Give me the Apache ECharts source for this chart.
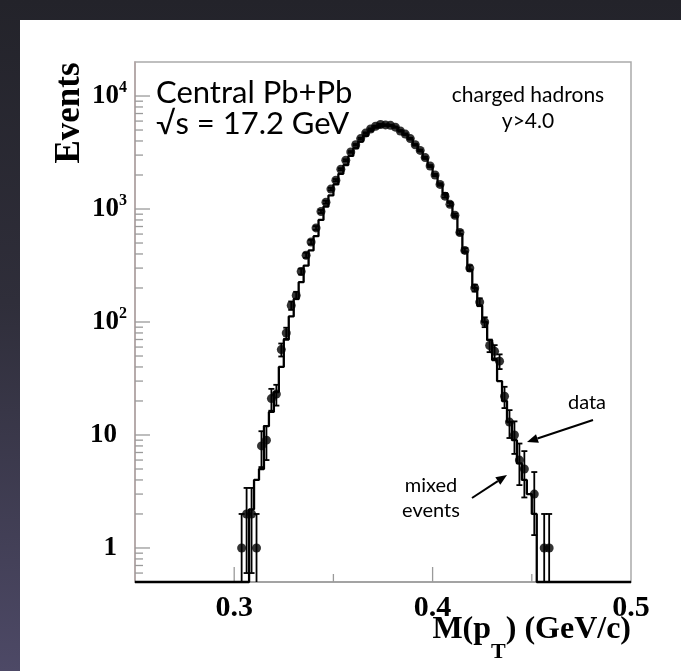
<!DOCTYPE html>
<html><head><meta charset="utf-8">
<script src="https://cdn.jsdelivr.net/npm/echarts@6/dist/echarts.min.js"></script>
<style>
html,body{margin:0;padding:0;width:681px;height:671px;overflow:hidden;
background:linear-gradient(to bottom,#23232a 0%,#2f2e3a 45%,#4d4966 100%);}
#panel{position:absolute;left:20px;top:20px;width:661px;height:651px;background:#fff;}
#chart{position:absolute;left:0;top:0;width:681px;height:671px;}
</style></head><body><div id="panel"></div><div id="chart"></div>
<script>
// ---- axis ranges & ticks ----
const xMin = 0.25, xMax = 0.5, yMin = 0.5, yMax = 20000;
const xTickLabels = [0.3, 0.4, 0.5];
const xMajorTicks = [0.3, 0.4];
const xMinorTicks = [0.35, 0.45];
const yTickValues = [1, 10, 100, 1000, 10000];

// ---- histogram binning ----
const binWidth = 0.0025;
// mixed events histogram: first non-empty bin lower edge, then contents
const mixedFirstEdge = 0.3075;
const mixedEvents = [
  2.2, 4.0, 5.0, 12, 16, 24, 40, 70, 112, 160,
  225, 315, 430, 575, 800, 1050, 1320, 1650, 2050, 2450,
  2950, 3450, 3950, 4450, 4900, 5250, 5450, 5500, 5430, 5250,
  4950, 4550, 4150, 3700, 3250, 2800, 2400, 2000, 1650, 1380,
  1150, 870, 600, 420, 290, 200, 140, 100, 69, 46,
  30, 20, 13, 9, 5.6, 4.0, 3.0, 2.0
];
// data points: first bin centre, counts and errors
const dataFirstCenter = 0.30375;
const dataCounts = [
  1, 2, 2, 1, 8, 9, 21, 23, 57, 80,
  140, 172, 280, 390, 510, 680, 950, 1150, 1500, 1800,
  2250, 2700, 3200, 3700, 4200, 4700, 5100, 5400, 5600, 5550,
  5500, 5300, 4900, 4600, 4200, 3700, 3300, 2850, 2400, 2000,
  1650, 1300, 1100, 880, 620, 430, 300, 200, 150, 100,
  62, 55, 45, 22, 13, 10, 6, 5, 0, 3,
  0, 1, 1
];
const dataErrors = [
  1, 1.4, 1.4, 1, 2.8, 3, 4.6, 4.8, 7.5, 9,
  12, 13, 17, 20, 23, 26, 31, 34, 39, 42,
  47, 52, 57, 61, 65, 69, 71, 73, 75, 74,
  74, 73, 70, 68, 65, 61, 57, 53, 49, 45,
  41, 36, 33, 30, 25, 21, 17, 14, 12, 10,
  7.9, 7.4, 6.7, 4.7, 3.6, 3.2, 2.4, 2.2, 0, 1.7,
  0, 1, 1
];

// ---- build series data ----
const histPts = [[xMin, yMin], [mixedFirstEdge, yMin]];
mixedEvents.forEach((v, i) => {
  const lo = mixedFirstEdge + i * binWidth, hi = lo + binWidth;
  histPts.push([lo, v], [hi, v]);
});
const histEnd = mixedFirstEdge + mixedEvents.length * binWidth;
histPts.push([histEnd, yMin], [xMax, yMin]);

const pts = [];
dataCounts.forEach((c, i) => {
  if (c > 0) pts.push([dataFirstCenter + i * binWidth, c, dataErrors[i]]);
});

const tickItems = [];
yTickValues.forEach(v => tickItems.push([xMin, v, 15, 0]));
for (let d = -1; d <= 4; d++) for (let m = 2; m <= 9; m++) {
  const v = m * Math.pow(10, d);
  if (v > yMin * 1.0001 && v < yMax * 0.9999) tickItems.push([xMin, v, 8, 0]);
}
xMajorTicks.forEach(v => tickItems.push([v, yMin, 15, 1]));
xMinorTicks.forEach(v => tickItems.push([v, yMin, 8, 1]));

const chart = echarts.init(document.getElementById('chart'), null, {renderer: 'canvas'});
const serif = '"Liberation Serif","Times New Roman",serif';
const sans = 'Lato,"Open Sans",sans-serif';

// axis title pieces measured for right alignment
const mctx = document.createElement('canvas').getContext('2d');
const fMain = 'bold 32px ' + serif, fSub = 'bold 22px ' + serif;
mctx.font = fMain; const w1 = mctx.measureText('M(p').width; const w3 = mctx.measureText(') (GeV/c)').width;
mctx.font = fSub; const w2 = mctx.measureText('T').width;
const xt3 = 631 - w3, xt2 = xt3 - w2, xt1 = xt2 - w1;

function arrow(x0, y0, x1, y1) {
  const dx = x1 - x0, dy = y1 - y0, L = Math.hypot(dx, dy), ux = dx / L, uy = dy / L;
  const hl = 11, hw = 4.5;
  const bx = x1 - ux * hl, by = y1 - uy * hl;
  return [
    {type: 'line', shape: {x1: x0, y1: y0, x2: bx, y2: by}, style: {stroke: '#000', lineWidth: 2}},
    {type: 'polygon', shape: {points: [[x1, y1], [bx - uy * hw, by + ux * hw], [bx + uy * hw, by - ux * hw]]}, style: {fill: '#000'}}
  ];
}

const option = {
  animation: false,
  backgroundColor: 'transparent',
  grid: {left: 135, right: 50, top: 62, bottom: 89, show: true, borderColor: '#aaaaaa', borderWidth: 1.5, backgroundColor: 'transparent'},
  xAxis: {
    type: 'value', min: xMin, max: xMax, interval: 0.05,
    axisLine: {lineStyle: {color: '#9a9a9a', width: 1.5}},
    axisTick: {show: false}, splitLine: {show: false},
    axisLabel: {
      margin: 11, color: '#000', fontFamily: serif, fontWeight: 'bold', fontSize: 30,
      formatter: v => xTickLabels.some(t => Math.abs(t - v) < 1e-9) ? v.toFixed(1) : ''
    }
  },
  yAxis: {
    type: 'log', logBase: 10, min: yMin, max: yMax,
    axisLine: {show: true, lineStyle: {color: '#b3a4a4', width: 1.5}},
    axisTick: {show: false}, splitLine: {show: false}, minorTick: {show: false},
    axisLabel: {
      margin: 8,
      formatter: v => {
        if (!yTickValues.some(t => Math.abs(t - v) / t < 1e-6)) return '';
        const e = Math.round(Math.log10(v));
        if (e === 0) return '{b|1}{sp|}';
        if (e === 1) return '{b|10}{sp|}';
        return '{b|10}{sup|' + e + '}';
      },
      rich: {
        b: {fontFamily: serif, fontWeight: 'bold', fontSize: 27, color: '#000', lineHeight: 32},
        sup: {fontFamily: serif, fontWeight: 'bold', fontSize: 16, color: '#000', lineHeight: 16, verticalAlign: 'top'},
        sp: {width: 10}
      }
    }
  },
  series: [
    {
      type: 'custom', name: 'ticks', silent: true, clip: false, z: 3,
      dimensions: ['x', 'y', 'len', 'dir'], encode: {x: 0, y: 1},
      data: tickItems,
      renderItem: (params, api) => {
        const p = api.coord([api.value(0), api.value(1)]);
        const len = api.value(2), dir = api.value(3);
        const shape = dir === 0 ? {x1: p[0], y1: p[1], x2: p[0] + len, y2: p[1]}
                                : {x1: p[0], y1: p[1], x2: p[0], y2: p[1] - len};
        return {type: 'line', shape, style: {stroke: '#9a9a9a', lineWidth: 1.3}};
      }
    },
    {
      type: 'custom', name: 'errors', silent: true, clip: false, z: 4,
      dimensions: ['x', 'y', 'err'], encode: {x: 0, y: 1},
      data: pts,
      renderItem: (params, api) => {
        const x = api.value(0), y = api.value(1), e = api.value(2);
        const lo = Math.max(y - e, yMin), hi = Math.min(y + e, yMax);
        const p1 = api.coord([x, lo]), p2 = api.coord([x, hi]);
        const cw = 3, st = {stroke: '#000', lineWidth: 1.8};
        const ch = [{type: 'line', shape: {x1: p1[0], y1: p1[1], x2: p2[0], y2: p2[1]}, style: st},
                    {type: 'line', shape: {x1: p2[0] - cw, y1: p2[1], x2: p2[0] + cw, y2: p2[1]}, style: st}];
        if (y - e > yMin) ch.push({type: 'line', shape: {x1: p1[0] - cw, y1: p1[1], x2: p1[0] + cw, y2: p1[1]}, style: st});
        return {type: 'group', children: ch};
      }
    },
    {
      type: 'scatter', name: 'data', symbol: 'circle', symbolSize: 9, z: 5,
      itemStyle: {color: '#000'}, data: pts.map(p => [p[0], p[1]]), silent: true
    },
    {
      type: 'line', name: 'mixed events', data: histPts, showSymbol: false, symbol: 'none',
      clip: false, z: 6, lineStyle: {color: '#000', width: 2.3}, silent: true
    }
  ],
  graphic: [
    {type: 'text', x: 70, y: 113, rotation: Math.PI / 2,
     style: {text: 'Events', font: 'bold 35px ' + serif, fill: '#000', align: 'center', verticalAlign: 'middle'}},
    {type: 'text', x: xt1, y: 630, style: {text: 'M(p', font: fMain, fill: '#000', align: 'left', verticalAlign: 'middle'}},
    {type: 'text', x: xt2, y: 652, style: {text: 'T', font: fSub, fill: '#000', align: 'left', verticalAlign: 'middle'}},
    {type: 'text', x: xt3, y: 630, style: {text: ') (GeV/c)', font: fMain, fill: '#000', align: 'left', verticalAlign: 'middle'}},
    {type: 'text', x: 156, y: 93, style: {text: 'Central Pb+Pb', font: '31px ' + sans, fill: '#000', align: 'left', verticalAlign: 'middle'}},
    {type: 'text', x: 156, y: 124, style: {text: '\u221As = 17.2 GeV', font: '31px ' + sans, fill: '#000', align: 'left', verticalAlign: 'middle'}},
    {type: 'text', x: 528, y: 95, style: {text: 'charged hadrons', font: '21px ' + sans, fill: '#000', align: 'center', verticalAlign: 'middle'}},
    {type: 'text', x: 528, y: 121, style: {text: 'y>4.0', font: '21px ' + sans, fill: '#000', align: 'center', verticalAlign: 'middle'}},
    {type: 'text', x: 587, y: 403, style: {text: 'data', font: '20px ' + sans, fill: '#000', align: 'center', verticalAlign: 'middle'}},
    {type: 'text', x: 431, y: 486, style: {text: 'mixed', font: '20px ' + sans, fill: '#000', align: 'center', verticalAlign: 'middle'}},
    {type: 'text', x: 431, y: 511, style: {text: 'events', font: '20px ' + sans, fill: '#000', align: 'center', verticalAlign: 'middle'}},
    ...arrow(593, 420, 527, 442),
    ...arrow(472, 498, 507, 475)
  ]
};
chart.setOption(option);
</script></body></html>
